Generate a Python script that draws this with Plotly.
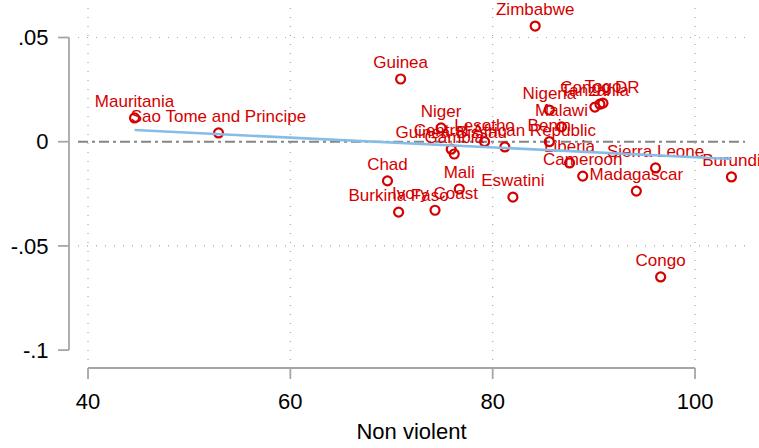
import plotly.graph_objects as go

# ---- data ----
countries = ["Zimbabwe", "Guinea", "Mauritania", "Sao Tome and Principe", "Niger",
             "Guinea-Bissau", "Gambia", "Lesotho", "Central African Republic", "Chad",
             "Burkina Faso", "Ivory Coast", "Mali", "Eswatini", "Nigeria", "Malawi",
             "Benin", "Liberia", "Cameroon", "Madagascar", "Sierra Leone", "Burundi",
             "Congo", "Tanzania", "Congo DR", "Togo"]
non_violent = [84.2, 70.9, 44.6, 52.9, 74.9,
               75.9, 76.2, 79.2, 81.2, 69.6,
               70.7, 74.3, 76.7, 82.0, 85.6, 86.8,
               85.6, 87.6, 88.9, 94.2, 96.1, 103.6,
               96.6, 90.1, 90.6, 90.9]
residual = [0.0555, 0.0301, 0.0114, 0.0042, 0.0066,
            -0.0036, -0.0059, 0.0000, -0.0025, -0.0188,
            -0.0338, -0.0329, -0.0227, -0.0266, 0.0152, 0.0071,
            0.0000, -0.0102, -0.0165, -0.0237, -0.0126, -0.0169,
            -0.0649, 0.0166, 0.0180, 0.0185]
fit_x = [44.6, 103.6]
fit_y = [0.0056, -0.0083]

x_ticks = [40, 60, 80, 100]
y_ticks = [-0.1, -0.05, 0, 0.05]
y_tick_text = ["-.1", "-.05", "0", ".05"]
y_grid = [-0.05, 0.05]

RED = "#d40000"
AXIS = "#a6a6a6"
GRID = "#a8a8a8"
FONT = "Liberation Sans, Arial, Helvetica, sans-serif"

fig = go.Figure()
fig.add_trace(go.Scatter(
    x=non_violent, y=residual, mode="markers+text", text=countries,
    textposition="top center", cliponaxis=False,
    textfont=dict(family=FONT, size=17, color=RED),
    marker=dict(symbol="circle-open", size=9, color=RED, line=dict(width=2.2, color=RED)),
    showlegend=False, hoverinfo="skip"))
fig.add_trace(go.Scatter(
    x=fit_x, y=fit_y, mode="lines",
    line=dict(color="#86bde6", width=2.6), showlegend=False, hoverinfo="skip"))

shapes = []
# zero reference line
shapes.append(dict(type="line", xref="paper", x0=0, x1=1, yref="y", y0=0, y1=0,
                   line=dict(color="#858585", width=2, dash="10px,4px,3px,4px"), layer="below"))
# horizontal grid lines
for g in y_grid:
    shapes.append(dict(type="line", xref="paper", x0=0, x1=1, yref="y", y0=g, y1=g,
                       line=dict(color=GRID, width=1.2, dash="1px,8px"), layer="below"))
# offset y axis line and ticks
W, H = 667, 352
ya_x = -9 / W
shapes.append(dict(type="line", xref="paper", x0=ya_x, x1=ya_x, yref="y",
                   y0=min(y_ticks), y1=max(y_ticks), line=dict(color=AXIS, width=1.8)))
for t in y_ticks:
    shapes.append(dict(type="line", xref="paper", x0=-20 / W, x1=ya_x, yref="y", y0=t, y1=t,
                       line=dict(color=AXIS, width=1.8)))
# offset x axis line and ticks
xa_y = -8 / H
shapes.append(dict(type="line", yref="paper", y0=xa_y, y1=xa_y, xref="x",
                   x0=min(x_ticks), x1=max(x_ticks), line=dict(color=AXIS, width=1.8)))
for t in x_ticks:
    shapes.append(dict(type="line", yref="paper", y0=-19 / H, y1=xa_y, xref="x", x0=t, x1=t,
                       line=dict(color=AXIS, width=1.8)))
# vertical grid lines
for t in x_ticks:
    shapes.append(dict(type="line", yref="paper", y0=0, y1=1, xref="x", x0=t, x1=t,
                       line=dict(color=GRID, width=1.2, dash="1px,8px"), layer="below"))

fig.update_layout(
    width=759, height=448,
    margin=dict(l=78, r=14, t=8, b=88),
    paper_bgcolor="white", plot_bgcolor="white",
    font=dict(family=FONT, color="black"),
    shapes=shapes,
    xaxis=dict(range=[39.01, 104.94], tickvals=x_ticks, ticks="outside", ticklen=22,
               tickcolor="rgba(0,0,0,0)", showline=False, zeroline=False,
               showgrid=False, automargin=False,
               tickfont=dict(size=22, color="black"),
               title=dict(text="Non violent", font=dict(size=22, color="black"), standoff=10)),
    yaxis=dict(range=[-0.10475, 0.06416], tickvals=y_ticks, ticktext=y_tick_text,
               ticks="outside", ticklen=24, tickcolor="rgba(0,0,0,0)",
               showline=False, zeroline=False, showgrid=False, automargin=False,
               tickfont=dict(size=22, color="black")),
)

fig.write_html("out.html", config={"displayModeBar": False},
               post_script="document.body.style.margin='0px';")
